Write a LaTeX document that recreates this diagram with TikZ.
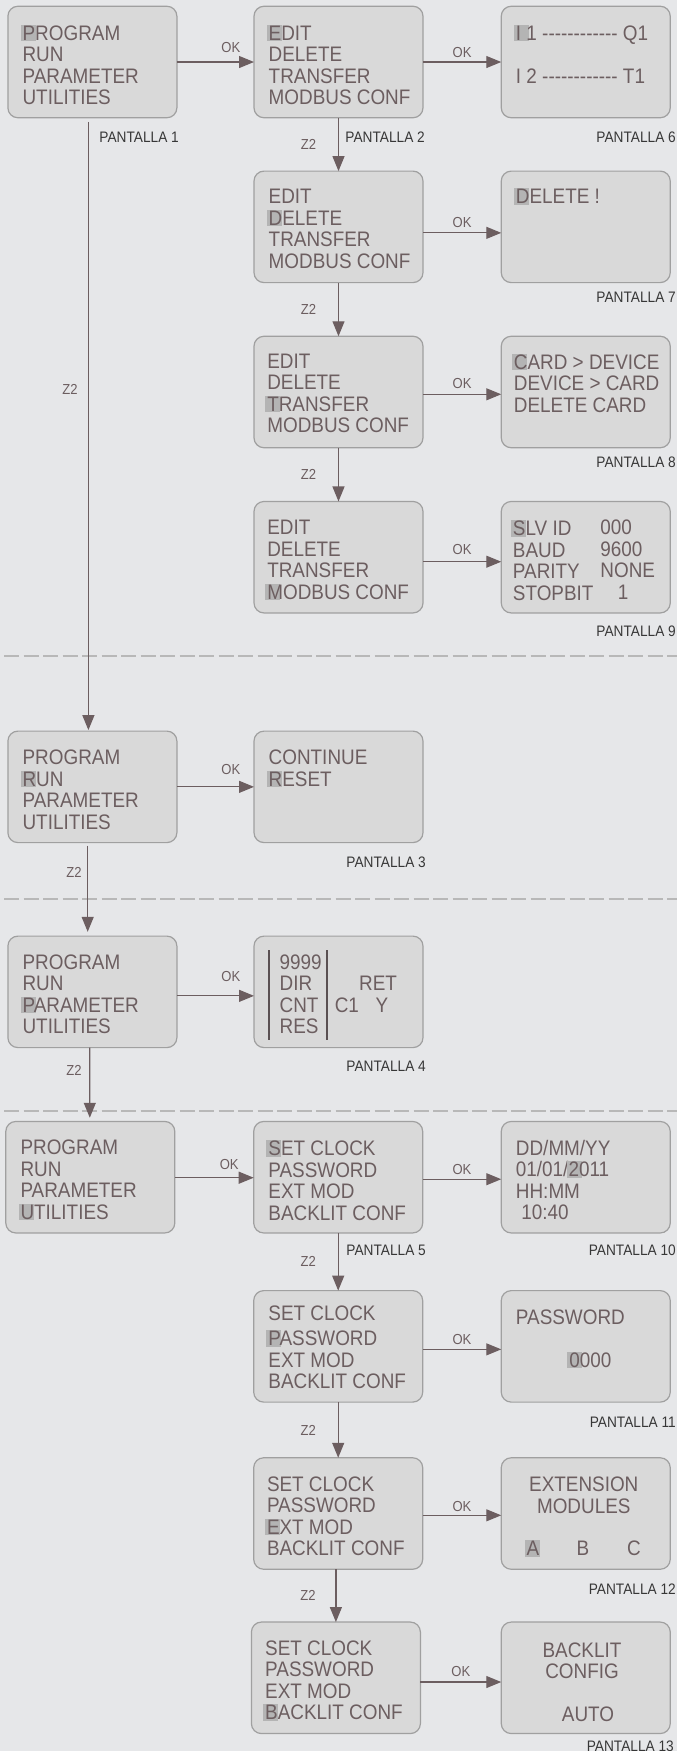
\documentclass[tikz,border=0pt]{standalone}
\usepackage{fontspec}
\setmainfont{Liberation Sans}[FakeStretch=0.9]
\usetikzlibrary{arrows.meta,calc}

\definecolor{bgc}{RGB}{230,231,233}
\definecolor{boxc}{RGB}{217,217,217}
\definecolor{edgec}{RGB}{160,160,160}
\definecolor{inkc}{RGB}{108,94,96}
\definecolor{barc}{RGB}{90,80,82}
\definecolor{hlc}{RGB}{180,180,180}
\definecolor{tagc}{RGB}{55,55,55}
\definecolor{sepc}{RGB}{184,184,184}

\newcommand{\hl}[1]{\makebox[0pt][l]{\kern-2pt\textcolor{hlc}{\rule[-1pt]{15pt}{16.5pt}}}#1}
\newcommand{\menufont}{\fontsize{21}{21.5}\selectfont}
\newcommand{\hy}{-\kern0pt}
\newcommand{\dashrow}{\hy\hy\hy\hy\hy\hy\hy\hy\hy\hy\hy-}

\begin{document}
\begin{tikzpicture}[x=1pt,y=-1pt,
    screen/.style={draw=edgec, fill=boxc, line width=1.2pt, rounded corners=10pt,
        minimum width=169pt, minimum height=111.5pt, inner sep=0pt, outer sep=0pt},
    menu/.style={anchor=north west, inner sep=0pt, align=left, font=\menufont, text=inkc},
    flow/.style={draw=inkc, line width=1.2pt, -{Triangle[length=15pt,width=12pt]}},
    lbl/.style={inner sep=0pt, font=\fontsize{14.5}{14.5}\selectfont, text=inkc},
    tag/.style={anchor=east, inner sep=0pt, font=\fontsize{15.2}{15.2}\selectfont, text=tagc},
    divider/.style={draw=sepc, line width=2pt, dash pattern=on 15pt off 4.5pt}]

    \fill[bgc] (0,0) rectangle (677,1751);
    \useasboundingbox (0,0) rectangle (677,1751);

    \draw[divider] (4,655.8) -- (677,655.8);
    \draw[divider] (4,899.3) -- (677,899.3);
    \draw[divider] (4,1111.3) -- (677,1111.3);

    % screens
    \node[screen] (main1) at (92.4,62) {};
    \node[screen] (edit1) at (338.5,62) {};
    \node[screen] (p6) at (585.75,62) {};
    \node[screen] (edit2) at (338.5,226.85) {};
    \node[screen] (p7) at (585.75,226.85) {};
    \node[screen] (edit3) at (338.5,392) {};
    \node[screen] (p8) at (585.75,392) {};
    \node[screen] (edit4) at (338.5,557.2) {};
    \node[screen] (p9) at (585.75,557.2) {};

    \node[screen] (main2) at (92.4,786.85) {};
    \node[screen] (p3) at (338.5,786.85) {};

    \node[screen] (main3) at (92.4,991.85) {};
    \node[screen] (p4) at (338.5,991.85) {};

    \node[screen] (main4) at (90.3,1177.2) {};
    \node[screen] (util1) at (338.2,1177.2) {};
    \node[screen] (p10) at (585.75,1177.2) {};
    \node[screen] (util2) at (338.2,1346.35) {};
    \node[screen] (p11) at (585.75,1346.35) {};
    \node[screen] (util3) at (338.2,1513.5) {};
    \node[screen] (p12) at (585.75,1513.5) {};
    \node[screen] (util4) at (335.9,1677.8) {};
    \node[screen] (p13) at (585.75,1677.8) {};

    % menu texts
    \node[menu] (main1t) at ([shift={(14.5,18.5)}]main1.north west) {\hl{P}ROGRAM\\RUN\\PARAMETER\\UTILITIES};
    \node[menu] (edit1t) at ([shift={(14.5,18.5)}]edit1.north west) {\hl{E}DIT\\DELETE\\TRANSFER\\MODBUS CONF};
    \node[menu] (p6t) at ([shift={(14.5,18.5)}]p6.north west) {\hl{I} 1 \dashrow{} Q1\\[21.5pt]I 2 \dashrow{} T1};
    \node[menu] (edit2t) at ([shift={(14.5,18.2)}]edit2.north west) {EDIT\\\hl{D}ELETE\\TRANSFER\\MODBUS CONF};
    \node[menu] (p7t) at ([shift={(14.5,17)}]p7.north west) {\hl{D}ELETE !};
    \node[menu] (edit3t) at ([shift={(13.1,17.5)}]edit3.north west) {EDIT\\DELETE\\\hl{T}RANSFER\\MODBUS CONF};
    \node[menu] (p8t) at ([shift={(12.5,17.5)}]p8.north west) {\hl{C}ARD > DEVICE\\DEVICE > CARD\\DELETE CARD};
    \node[menu] (edit4t) at ([shift={(13.1,18.5)}]edit4.north west) {EDIT\\DELETE\\TRANSFER\\\hl{M}ODBUS CONF};
    \node[menu] (p9t) at ([shift={(11.5,18.5)}]p9.north west) {\hl{S}LV ID\\BAUD\\PARITY\\STOPBIT};
    \node[menu] (p9v) at ([shift={(99,18.5)}]p9.north west) {000\\9600\\NONE\\\hspace*{17.5pt}1};

    \node[menu] (main2t) at ([shift={(14.5,18.8)}]main2.north west) {PROGRAM\\\hl{R}UN\\PARAMETER\\UTILITIES};
    \node[menu] (p3t) at ([shift={(14.5,18.8)}]p3.north west) {CONTINUE\\\hl{R}ESET};

    \node[menu] (main3t) at ([shift={(14.5,18.2)}]main3.north west) {PROGRAM\\RUN\\\hl{P}ARAMETER\\UTILITIES};
    \draw[barc, line width=1.4pt] ([shift={(15,14)}]p4.north west) -- ++(0,90);
    \draw[barc, line width=1.4pt] ([shift={(73,14)}]p4.north west) -- ++(0,90);
    \node[menu] (p4a) at ([shift={(25.5,18.2)}]p4.north west) {9999\\DIR\\CNT\\RES};
    \node[menu, anchor=base west] (p4b) at ([shift={(105,54.8)}]p4.north west) {RET};
    \node[menu, anchor=base west] (p4c) at ([shift={(80.6,76.5)}]p4.north west) {C1};
    \node[menu, anchor=base west] (p4d) at ([shift={(121.5,76.5)}]p4.north west) {Y};

    \node[menu] (main4t) at ([shift={(14.5,18.5)}]main4.north west) {PROGRAM\\RUN\\PARAMETER\\\hl{U}TILITIES};
    \node[menu] (util1t) at ([shift={(14.5,18.5)}]util1.north west) {\hl{S}ET CLOCK\\PASSWORD\\EXT MOD\\BACKLIT CONF};
    \node[menu] (p10t) at ([shift={(14.5,18.5)}]p10.north west) {DD/MM/YY\\01/01/\hl{2}011\\HH:MM\\\hspace*{5.5pt}10:40};
    \node[menu] (util2t) at ([shift={(14.5,14.8)}]util2.north west) {SET CLOCK\\[4.2pt]\hl{P}ASSWORD\\EXT MOD\\BACKLIT CONF};
    \node[menu] (p11t) at ([shift={(14.5,19.2)}]p11.north west) {PASSWORD};
    \node[menu, anchor=base west] (p11v) at ([shift={(68,76.5)}]p11.north west) {\hl{0}000};
    \node[menu] (util3t) at ([shift={(13.1,18.8)}]util3.north west) {SET CLOCK\\PASSWORD\\\hl{E}XT MOD\\BACKLIT CONF};
    \node[menu, anchor=north, align=center] (p12t) at ([shift={(-2,19.1)}]p12.north) {EXTENSION\\MODULES};
    \node[menu, anchor=base] (p12a) at ([shift={(-52.75,98.1)}]p12.north) {\hl{A}};
    \node[menu, anchor=base] (p12b) at ([shift={(-2.75,98.1)}]p12.north) {B};
    \node[menu, anchor=base] (p12c) at ([shift={(48.25,98.1)}]p12.north) {C};
    \node[menu] (util4t) at ([shift={(13.6,18.5)}]util4.north west) {SET CLOCK\\PASSWORD\\EXT MOD\\\hl{B}ACKLIT CONF};
    \node[menu, anchor=north, align=center] (p13t) at ([shift={(-3.75,20.2)}]p13.north) {BACKLIT\\CONFIG};
    \node[menu, anchor=base] (p13a) at ([shift={(2.25,99.2)}]p13.north) {AUTO};

    % OK
    \draw[flow] (main1.east) -- node[lbl, pos=0.7, yshift=14pt] (ok1) {OK} (edit1.west);
    \draw[flow] (edit1.east) -- node[lbl, midway, yshift=9.7pt] (ok2) {OK} (p6.west);
    \draw[flow] ([yshift=-6pt]edit2.east) -- node[lbl, midway, yshift=10.3pt] (ok3) {OK} ([yshift=-6pt]p7.west);
    \draw[flow] ([yshift=-2.3pt]edit3.east) -- node[lbl, midway, yshift=11pt] (ok4) {OK} ([yshift=-2.3pt]p8.west);
    \draw[flow] ([yshift=-4.5pt]edit4.east) -- node[lbl, midway, yshift=11.7pt] (ok5) {OK} ([yshift=-4.5pt]p9.west);
    \draw[flow] (main2.east) -- node[lbl, pos=0.7, yshift=17pt] (ok6) {OK} (p3.west);
    \draw[flow] ([yshift=-4pt]main3.east) -- node[lbl, pos=0.7, yshift=19pt] (ok7) {OK} ([yshift=-4pt]p4.west);
    \draw[flow] ([yshift=-0.5pt]main4.east) -- node[lbl, pos=0.69, yshift=13.4pt] (ok8) {OK} ([yshift=-0.5pt]util1.west);
    \draw[flow] ([yshift=-2pt]util1.east) -- node[lbl, midway, yshift=9.3pt] (ok9) {OK} ([yshift=-2pt]p10.west);
    \draw[flow] ([yshift=-3pt]util2.east) -- node[lbl, midway, yshift=10pt] (ok10) {OK} ([yshift=-3pt]p11.west);
    \draw[flow] ([yshift=-1.8pt]util3.east) -- node[lbl, midway, yshift=9.3pt] (ok11) {OK} ([yshift=-1.8pt]p12.west);
    \draw[flow] ([yshift=-4.2pt]util4.east) -- node[lbl, midway, yshift=10.3pt] (ok12) {OK} ([yshift=-4.2pt]p13.west);

    % Z2
    \draw[flow, shorten <=4pt, shorten >=1pt] ([xshift=-4pt]main1.south) -- node[lbl, pos=0.443, xshift=-18.5pt] (z1) {Z2} ([xshift=-4pt]main2.north);
    \draw[flow, shorten <=3pt, shorten >=4.3pt] ([xshift=-4.7pt]main2.south) -- node[lbl, pos=0.317, xshift=-13.7pt] (z2) {Z2} ([xshift=-4.7pt]main3.north);
    \draw[flow, shorten >=3.7pt] ([xshift=-2.6pt]main3.south) -- node[lbl, pos=0.31, xshift=-15.8pt] (z3) {Z2} ([xshift=-0.5pt]main4.north);
    \draw[flow] (edit1.south) -- node[lbl, midway, xshift=-30pt] (z4) {Z2} (edit2.north);
    \draw[flow] (edit2.south) -- node[lbl, midway, xshift=-30pt] (z5) {Z2} (edit3.north);
    \draw[flow] (edit3.south) -- node[lbl, midway, xshift=-30pt] (z6) {Z2} (edit4.north);
    \draw[flow] (util1.south) -- node[lbl, midway, xshift=-30pt] (z7) {Z2} (util2.north);
    \draw[flow] (util2.south) -- node[lbl, midway, xshift=-30pt] (z8) {Z2} (util3.north);
    \draw[flow] (util3.south -| util4.north) -- node[lbl, midway, xshift=-28pt] (z9) {Z2} (util4.north);

    % PANTALLA
    \node[tag] (t1) at (179,137) {PANTALLA 1};
    \node[tag] (t2) at (425,137) {PANTALLA 2};
    \node[tag] (t6) at (676,137) {PANTALLA 6};
    \node[tag] (t7) at (676,297.7) {PANTALLA 7};
    \node[tag] (t8) at (676,462) {PANTALLA 8};
    \node[tag] (t9) at (676,631.7) {PANTALLA 9};
    \node[tag] (t3) at (426,862.7) {PANTALLA 3};
    \node[tag] (t4) at (426,1066.7) {PANTALLA 4};
    \node[tag] (t5) at (426,1250.7) {PANTALLA 5};
    \node[tag] (t10) at (676,1250.7) {PANTALLA 10};
    \node[tag] (t11) at (676,1422.7) {PANTALLA 11};
    \node[tag] (t12) at (676,1589.3) {PANTALLA 12};
    \node[tag] (t13) at (674,1746.7) {PANTALLA 13};

\end{tikzpicture}
\end{document}
